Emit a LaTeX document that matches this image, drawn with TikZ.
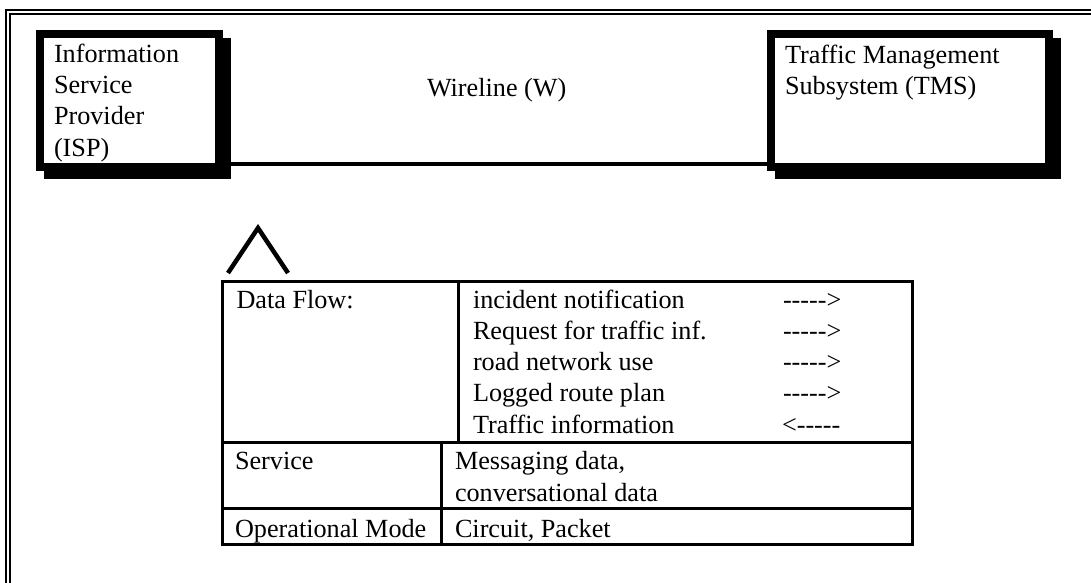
\documentclass[tikz,border=0pt]{standalone}
\usepackage{fontspec}
\setmainfont{Liberation Serif}
\usetikzlibrary{backgrounds}
\begin{document}
\begin{tikzpicture}[x=1pt,y=-1pt,
  txt/.style={anchor=base west, inner sep=0pt, outer sep=0pt, font=\fontsize{26.2}{31.3}\selectfont},
  bigbox/.style={draw, line width=8pt, fill=white, inner sep=0pt, outer sep=0pt, anchor=north west, minimum height=133pt},
  cell/.style={draw, line width=3.5pt, inner sep=0pt, outer sep=0pt, anchor=north west},
  frameline/.style={line width=2.2pt},
  wire/.style={line width=3.5pt},
  caretline/.style={line width=4.5pt}]
\useasboundingbox (0,0) rectangle (1091,582);
% outer double frame
\draw[frameline] (6,583) -- (6,10) -- (1092,10);
\draw[frameline] (10,583) -- (10,14) -- (1092,14);
% subsystem boxes
\node[bigbox, minimum width=179pt] (isp) at (40,34) {};
\node[bigbox, minimum width=278pt] (tms) at (771,34) {};
\begin{scope}[on background layer]
  \fill ([shift={(4pt,-4pt)}]isp.north west) rectangle ([shift={(12pt,-12pt)}]isp.south east);
  \fill ([shift={(4pt,-4pt)}]tms.north west) rectangle ([shift={(12pt,-12pt)}]tms.south east);
\end{scope}
\draw[wire] ([yshift=3pt]isp.south east) -- ([yshift=3pt]tms.south west);
% box texts
\node[txt] (isp1) at (54,62.3) {Information};
\node[txt] (isp2) at (54,93.5) {Service};
\node[txt] (isp3) at (54,124.8) {Provider};
\node[txt] (isp4) at (54,156) {(ISP)};
\node[txt] (tms1) at (785,63) {Traffic Management};
\node[txt] (tms2) at (785,94.3) {Subsystem (TMS)};
\node[txt] (wl) at (427,96.7) {Wireline (W)};
% caret
\draw[caretline] (228,273) -- (258,228) -- (288,273);
% table cells
\node[cell, minimum width=236pt, minimum height=161pt] (dfl) at (222.5,281.5) {};
\node[cell, minimum width=454pt, minimum height=161pt] (dfc) at (dfl.north east) {};
\node[cell, minimum width=219pt, minimum height=66pt] (svl) at (dfl.south west) {};
\node[cell, minimum width=471pt, minimum height=66pt] (svc) at (svl.north east) {};
\node[cell, minimum width=219pt, minimum height=36pt] (opl) at (svl.south west) {};
\node[cell, minimum width=471pt, minimum height=36pt] (opc) at (opl.north east) {};
% table texts
\node[txt] (t1) at (236.5,308) {Data Flow:};
\node[txt] (f1) at (473,308) {incident notification};
\node[txt] (f2) at (473,339.3) {Request for traffic inf.};
\node[txt] (f3) at (473,370.6) {road network use};
\node[txt] (f4) at (473,401.9) {Logged route plan};
\node[txt] (f5) at (473,433.2) {Traffic information};
\node[txt] (a1) at (783,308) {-{}-{}-{}-{}->};
\node[txt] (a2) at (783,339.3) {-{}-{}-{}-{}->};
\node[txt] (a3) at (783,370.6) {-{}-{}-{}-{}->};
\node[txt] (a4) at (783,401.9) {-{}-{}-{}-{}->};
\node[txt] (a5) at (782,433.2) {<-{}-{}-{}-{}-};
\node[txt] (t2) at (235,469.5) {Service};
\node[txt] (s1) at (455,469.5) {Messaging data,};
\node[txt] (s2) at (455,501) {conversational data};
\node[txt] (t3) at (235,537.3) {Operational Mode};
\node[txt] (o1) at (455,537.3) {Circuit, Packet};
\end{tikzpicture}
\end{document}
